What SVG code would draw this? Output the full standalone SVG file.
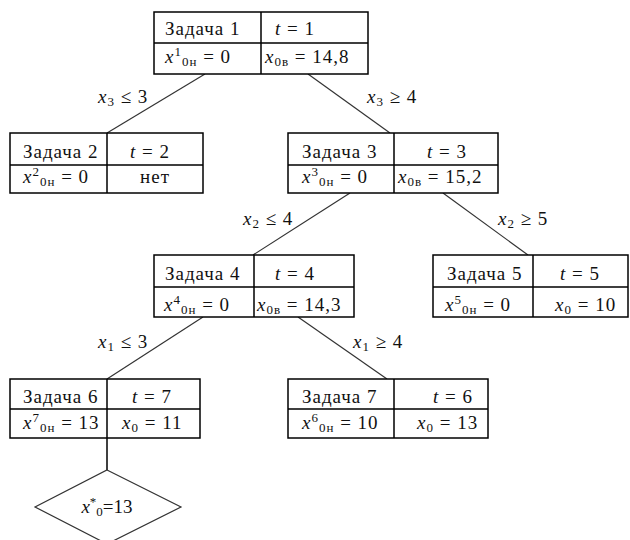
<svg xmlns="http://www.w3.org/2000/svg" width="630" height="540" viewBox="0 0 630 540">
<style>
.box{fill:#fff;stroke:#000;stroke-width:1.5}
.div{stroke:#000;stroke-width:1.5;fill:none}
.edge{stroke:#333;stroke-width:1.2;fill:none}
text{font-family:"Liberation Serif",serif;font-size:19px;letter-spacing:1px;fill:#111}
.i{font-style:italic}
.s{font-size:13px}
</style>
<rect width="630" height="540" fill="#fff"/>
<g id="connectors">
<line class="edge" x1="205" y1="74" x2="107" y2="133"/>
<line class="edge" x1="308" y1="74" x2="390" y2="133"/>
<line class="edge" x1="350" y1="193" x2="253" y2="255"/>
<line class="edge" x1="443" y1="193" x2="528" y2="255"/>
<line class="edge" x1="203" y1="317" x2="107" y2="379"/>
<line class="edge" x1="298" y1="317" x2="387" y2="379"/>
<line class="div" x1="107" y1="438" x2="107" y2="470"/>
<text x="98" y="103"><tspan class="i">x</tspan><tspan class="s" dy="3">3</tspan><tspan dy="-3"> ≤ 3</tspan></text>
<text x="367" y="103"><tspan class="i">x</tspan><tspan class="s" dy="3">3</tspan><tspan dy="-3"> ≥ 4</tspan></text>
<text x="243" y="225"><tspan class="i">x</tspan><tspan class="s" dy="3">2</tspan><tspan dy="-3"> ≤ 4</tspan></text>
<text x="498" y="225"><tspan class="i">x</tspan><tspan class="s" dy="3">2</tspan><tspan dy="-3"> ≥ 5</tspan></text>
<text x="98" y="348"><tspan class="i">x</tspan><tspan class="s" dy="3">1</tspan><tspan dy="-3"> ≤ 3</tspan></text>
<text x="353" y="348"><tspan class="i">x</tspan><tspan class="s" dy="3">1</tspan><tspan dy="-3"> ≥ 4</tspan></text>
</g>
<g id="task1">
<rect class="box" x="154" y="12" width="214" height="62"/>
<path class="div" d="M261 12V74M154 43H368"/>
<text x="165" y="35">Задача 1</text>
<text x="275" y="35"><tspan class="i">t</tspan> = 1</text>
<text x="165" y="63"><tspan class="i">x</tspan><tspan class="s" dy="-7">1</tspan><tspan class="s" dy="10">0н</tspan><tspan dy="-3"> = 0</tspan></text>
<text x="265" y="63"><tspan class="i">x</tspan><tspan class="s" dy="3">0в</tspan><tspan dy="-3"> = 14,8</tspan></text>
</g>
<g id="task2">
<rect class="box" x="10" y="133" width="193" height="60"/>
<path class="div" d="M107 133V193M10 165H203"/>
<text x="23" y="158">Задача 2</text>
<text x="130" y="158"><tspan class="i">t</tspan> = 2</text>
<text x="23" y="183"><tspan class="i">x</tspan><tspan class="s" dy="-7">2</tspan><tspan class="s" dy="10">0н</tspan><tspan dy="-3"> = 0</tspan></text>
<text x="155" y="183" text-anchor="middle">нет</text>
</g>
<g id="task3">
<rect class="box" x="288" y="133" width="210" height="60"/>
<path class="div" d="M394 133V193M288 165H498"/>
<text x="302" y="158">Задача 3</text>
<text x="427" y="158"><tspan class="i">t</tspan> = 3</text>
<text x="302" y="183"><tspan class="i">x</tspan><tspan class="s" dy="-7">3</tspan><tspan class="s" dy="10">0н</tspan><tspan dy="-3"> = 0</tspan></text>
<text x="398" y="183"><tspan class="i">x</tspan><tspan class="s" dy="3">0в</tspan><tspan dy="-3"> = 15,2</tspan></text>
</g>
<g id="task4">
<rect class="box" x="154" y="255" width="200" height="62"/>
<path class="div" d="M254 255V317M154 287H354"/>
<text x="165" y="280">Задача 4</text>
<text x="275" y="280"><tspan class="i">t</tspan> = 4</text>
<text x="164" y="311"><tspan class="i">x</tspan><tspan class="s" dy="-7">4</tspan><tspan class="s" dy="10">0н</tspan><tspan dy="-3"> = 0</tspan></text>
<text x="257" y="311"><tspan class="i">x</tspan><tspan class="s" dy="3">0в</tspan><tspan dy="-3"> = 14,3</tspan></text>
</g>
<g id="task5">
<rect class="box" x="433" y="255" width="195" height="62"/>
<path class="div" d="M533 255V317M433 287H628"/>
<text x="447" y="280">Задача 5</text>
<text x="560" y="280"><tspan class="i">t</tspan> = 5</text>
<text x="445" y="311"><tspan class="i">x</tspan><tspan class="s" dy="-7">5</tspan><tspan class="s" dy="10">0н</tspan><tspan dy="-3"> = 0</tspan></text>
<text x="555" y="311"><tspan class="i">x</tspan><tspan class="s" dy="3">0</tspan><tspan dy="-3"> = 10</tspan></text>
</g>
<g id="task6">
<rect class="box" x="10" y="379" width="190" height="59"/>
<path class="div" d="M107 379V438M10 409H200"/>
<text x="23" y="403">Задача 6</text>
<text x="132" y="403"><tspan class="i">t</tspan> = 7</text>
<text x="23" y="429"><tspan class="i">x</tspan><tspan class="s" dy="-7">7</tspan><tspan class="s" dy="10">0н</tspan><tspan dy="-3"> = 13</tspan></text>
<text x="122" y="429"><tspan class="i">x</tspan><tspan class="s" dy="3">0</tspan><tspan dy="-3"> = 11</tspan></text>
</g>
<g id="task7">
<rect class="box" x="288" y="379" width="200" height="59"/>
<path class="div" d="M394 379V438M288 409H488"/>
<text x="302" y="403">Задача 7</text>
<text x="433" y="403"><tspan class="i">t</tspan> = 6</text>
<text x="302" y="429"><tspan class="i">x</tspan><tspan class="s" dy="-7">6</tspan><tspan class="s" dy="10">0н</tspan><tspan dy="-3"> = 10</tspan></text>
<text x="417" y="429"><tspan class="i">x</tspan><tspan class="s" dy="3">0</tspan><tspan dy="-3"> = 13</tspan></text>
</g>
<g id="result">
<polygon class="edge" points="107,470 181,507 107,544 35,507" fill="#fff"/>
<text x="107" y="513" text-anchor="middle" style="letter-spacing:0"><tspan class="i">x</tspan><tspan class="s" dy="-7">*</tspan><tspan class="s" dy="10">0</tspan><tspan dy="-3">=13</tspan></text>
</g>
</svg>
